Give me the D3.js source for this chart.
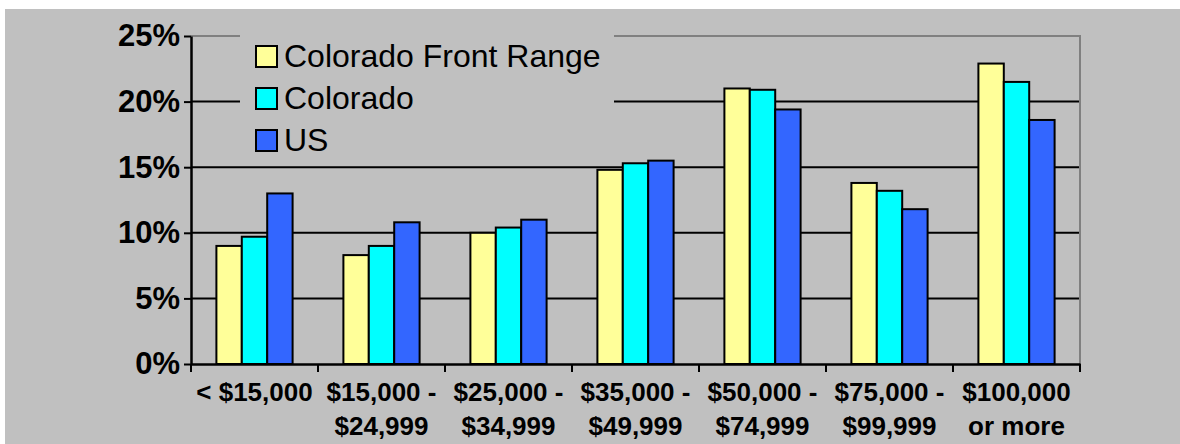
<!DOCTYPE html>
<html>
<head>
<meta charset="utf-8">
<script src="https://cdn.jsdelivr.net/npm/d3@7"></script>
<style>
  body { margin: 0; background: #fff; }
  text { font-family: "Liberation Sans", Arial, sans-serif; }
</style>
</head>
<body>
<svg width="1180" height="444"></svg>
<script>
// chart data
var categoryLines = [
  ["< $15,000"],
  ["$15,000 -", "$24,999"],
  ["$25,000 -", "$34,999"],
  ["$35,000 -", "$49,999"],
  ["$50,000 -", "$74,999"],
  ["$75,000 -", "$99,999"],
  ["$100,000", "or more"]
];
var categories = categoryLines.map(function(d) { return d.join(" "); });
var seriesNames = ["Colorado Front Range", "Colorado", "US"];
var seriesColors = ["#FFFF99", "#00FFFF", "#3366FF"];
var frontRange = [9.0, 8.3, 10.0, 14.8, 21.0, 13.8, 22.9];
var colorado = [9.7, 9.0, 10.4, 15.3, 20.9, 13.2, 21.5];
var us = [13.0, 10.8, 11.0, 15.5, 19.4, 11.8, 18.6];
var yTicks = [0, 5, 10, 15, 20, 25];

var seriesValues = [frontRange, colorado, us];

var svg = d3.select("svg"),
    margin = { top: 36, right: 100, bottom: 80, left: 191 },
    width = +svg.attr("width"),
    height = +svg.attr("height");

// gray chart area
svg.append("rect")
    .attr("x", 5).attr("y", 9)
    .attr("width", width - 5).attr("height", height - 9)
    .attr("fill", "#C0C0C0");

var x0 = d3.scaleBand()
    .domain(categories)
    .range([margin.left, width - margin.right])
    .padding(0);

var x1 = d3.scaleBand()
    .domain(seriesNames)
    .range([0, x0.bandwidth()])
    .paddingInner(0)
    .paddingOuter(1);

var y = d3.scaleLinear()
    .domain([0, 25])
    .range([height - margin.bottom, margin.top]);

// gridlines
svg.append("g")
    .selectAll("line")
    .data(yTicks.filter(function(d) { return d > 0 && d < 25; }))
    .enter().append("line")
    .attr("x1", margin.left).attr("x2", width - margin.right)
    .attr("y1", function(d) { return y(d); })
    .attr("y2", function(d) { return y(d); })
    .attr("stroke", "#000").attr("stroke-width", 2);

// plot border top + right
svg.append("path")
    .attr("d", "M" + margin.left + "," + y(25) + "H" + (width - margin.right) + "V" + y(0))
    .attr("fill", "none").attr("stroke", "#808080").attr("stroke-width", 2);

// legend
var legend = svg.append("g").attr("transform", "translate(240,30)");
legend.append("rect")
    .attr("width", 374).attr("height", 134)
    .attr("fill", "#C0C0C0");
var li = legend.selectAll("g.item")
    .data(seriesNames)
    .enter().append("g")
    .attr("class", "item")
    .attr("transform", function(d, i) { return "translate(0," + (i * 42) + ")"; });
li.append("rect")
    .attr("x", 16).attr("y", 16)
    .attr("width", 21).attr("height", 21)
    .attr("fill", function(d, i) { return seriesColors[i]; })
    .attr("stroke", "#000").attr("stroke-width", 2);
li.append("text")
    .attr("x", 44).attr("y", 37)
    .attr("font-size", 32)
    .text(function(d) { return d; });

// bars
var groups = svg.append("g")
    .selectAll("g")
    .data(categories)
    .enter().append("g")
    .attr("transform", function(d) { return "translate(" + x0(d) + ",0)"; });

groups.selectAll("rect")
    .data(function(d, ci) {
      return seriesNames.map(function(s, si) { return { name: s, value: seriesValues[si][ci], color: seriesColors[si] }; });
    })
    .enter().append("rect")
    .attr("x", function(d) { return x1(d.name); })
    .attr("y", function(d) { return y(d.value); })
    .attr("width", x1.bandwidth())
    .attr("height", function(d) { return y(0) - y(d.value); })
    .attr("fill", function(d) { return d.color; })
    .attr("stroke", "#000").attr("stroke-width", 2);

// y axis
var yAxis = svg.append("g")
    .attr("transform", "translate(" + margin.left + ",0)")
    .call(d3.axisLeft(y).tickValues(yTicks).tickSize(7).tickSizeOuter(0)
      .tickFormat(function(d) { return d + "%"; }));
yAxis.select(".domain").attr("stroke", "#000").attr("stroke-width", 2.5);
yAxis.selectAll(".tick line").attr("stroke", "#000").attr("stroke-width", 2);
yAxis.selectAll(".tick text")
    .attr("x", -11)
    .attr("font-size", 31).attr("font-weight", "bold")
    .attr("font-family", "'Liberation Sans', Arial, sans-serif")
    .attr("fill", "#000");

// x axis
var xAxis = svg.append("g")
    .attr("transform", "translate(0," + y(0) + ")")
    .call(d3.axisBottom(x0).tickSize(0).tickSizeOuter(0).tickFormat(""));
xAxis.select(".domain").attr("stroke", "#000").attr("stroke-width", 2.5);

// boundary tick marks
var bounds = categories.map(function(d) { return x0(d); }).concat([x0.range()[1]]);
xAxis.selectAll("line.bound")
    .data(bounds)
    .enter().append("line")
    .attr("class", "bound")
    .attr("x1", function(d) { return d; }).attr("x2", function(d) { return d; })
    .attr("y1", 0).attr("y2", 8)
    .attr("stroke", "#000").attr("stroke-width", 2);

// category labels
var labels = xAxis.selectAll("text.cat")
    .data(categories)
    .enter().append("text")
    .attr("class", "cat")
    .attr("x", function(d) { return x0(d) + x0.bandwidth() / 2; })
    .attr("y", 37)
    .attr("text-anchor", "middle")
    .attr("font-size", 26).attr("font-weight", "bold")
    .attr("fill", "#000");
labels.selectAll("tspan")
    .data(function(d, i) { return categoryLines[i]; })
    .enter().append("tspan")
    .attr("x", function() { var p = this.parentNode; return p.getAttribute("x"); })
    .attr("dy", function(d, i) { return i === 0 ? 0 : 34; })
    .text(function(d) { return d; });
</script>
</body>
</html>
